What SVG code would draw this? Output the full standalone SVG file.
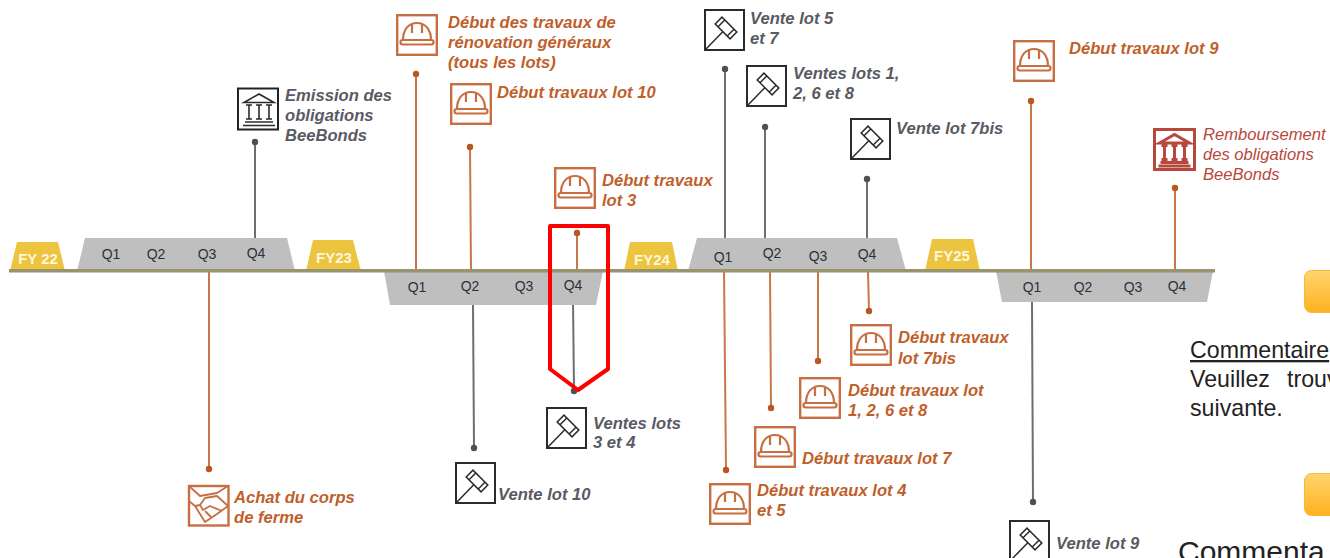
<svg xmlns="http://www.w3.org/2000/svg" xmlns:xlink="http://www.w3.org/1999/xlink" width="1330" height="558" viewBox="0 0 1330 558">
<style>
text{font-family:"Liberation Sans",Arial,sans-serif}
.o{font:italic bold 16.6px "Liberation Sans",Arial,sans-serif;fill:#BF5F2B}
.g{font:italic bold 16.6px "Liberation Sans",Arial,sans-serif;fill:#595A63}
.r{font:italic 16.6px "Liberation Sans",Arial,sans-serif;fill:#B8473C}
.q{font-size:14px;fill:#2E3038;text-anchor:middle}
.fy{font-size:15px;font-weight:bold;fill:#FFF6DC;text-anchor:middle}
.c{font-size:23.2px;fill:#222}
.lo{stroke:#C9784D;stroke-width:2;fill:none}
.lg{stroke:#6E6E6E;stroke-width:2;fill:none}
.do{fill:#B9571F}
.dg{fill:#4F5055}
.tz{fill:#BFBFBF}
.fyb{fill:#ECC440}
</style>
<defs>
<linearGradient id="ob" x1="0" y1="0" x2="0" y2="1"><stop offset="0" stop-color="#FFD56E"/><stop offset="1" stop-color="#FFB11F"/></linearGradient>
<symbol id="helmet" viewBox="0 0 42 42" width="42" height="42" overflow="visible">
<rect x="1.200" y="1.200" width="39.600" height="39.600" fill="none" stroke="#C76F43" stroke-width="2.400"/>
<path d="M7 26C7 15 13 9 21 9S35 15 35 26M16 10V19M26 10V19" fill="none" stroke="#C76F43" stroke-width="2.200"/>
<rect x="4.500" y="26" width="33" height="4.500" rx="2.200" fill="none" stroke="#C76F43" stroke-width="2.200"/>
</symbol>
<symbol id="gavel" viewBox="0 0 41 42" width="41" height="42" overflow="visible">
<rect x="1" y="1" width="39" height="40" fill="#fff" stroke="#2B2B2B" stroke-width="2"/>
<path d="M2 40L19 22.500" fill="none" stroke="#2B2B2B" stroke-width="1.500"/>
<g transform="rotate(45 22 19)" fill="none" stroke="#2B2B2B" stroke-width="1.500"><rect x="11.500" y="14.200" width="21" height="9.600"/><path d="M15.500 14.200V23.800M28.500 14.200V23.800"/></g>
</symbol>
<symbol id="bank" viewBox="0 0 42 42" width="42" height="42" overflow="visible">
<g fill="none" stroke="currentColor">
<path d="M6 14.500L21 6L36 14.500Z"/>
<path d="M8 17H14M11 17V31M8 31H14M18 17H24M21 17V31M18 31H24M28 17H34M31 17V31M28 31H34"/>
<path d="M7 34H35M5 37.500H37"/>
</g>
</symbol>
</defs>
<rect width="1330" height="558" fill="#fff"/>

<g id="connectors">
<path class="lg" d="M255 142V238"/><circle class="dg" cx="255" cy="142" r="3.200"/>
<path class="lo" d="M209 270V469"/><circle class="do" cx="209" cy="469" r="3.200"/>
<path class="lo" d="M416 74V270"/><circle class="do" cx="416" cy="74" r="3.200"/>
<path class="lo" d="M470 147L471 270"/><circle class="do" cx="470" cy="147" r="3.200"/>
<path class="lg" d="M473 305L474 448"/><circle class="dg" cx="474" cy="448" r="3.200"/>
<path class="lo" d="M577 233V270"/><circle class="do" cx="577" cy="233" r="3.200"/>
<path class="lg" d="M573 300L574 391"/><circle class="dg" cx="574" cy="391" r="3.200"/>
<path class="lg" d="M725 69V238"/><circle class="dg" cx="725" cy="69" r="3.200"/>
<path class="lg" d="M765 127V238"/><circle class="dg" cx="765" cy="127" r="3.200"/>
<path class="lg" d="M867 179V238"/><circle class="dg" cx="867" cy="179" r="3.200"/>
<path class="lo" d="M724 270L726 470"/><circle class="do" cx="726" cy="470" r="3.200"/>
<path class="lo" d="M770 272L771 408"/><circle class="do" cx="771" cy="408" r="3.200"/>
<path class="lo" d="M818 272V361"/><circle class="do" cx="818" cy="361" r="3.200"/>
<path class="lo" d="M868 272L869 311"/><circle class="do" cx="869" cy="311" r="3.200"/>
<path class="lo" d="M1031 101V270"/><circle class="do" cx="1031" cy="101" r="3.200"/>
<path class="lo" d="M1175 188V270"/><circle class="do" cx="1175" cy="188" r="3.200"/>
<path class="lg" d="M1032 302L1033 502"/><circle class="dg" cx="1033" cy="502" r="3.200"/>
</g>

<g id="timeline">
<path class="fyb" d="M10 271L17 242H58L65 271Z"/>
<path class="tz" d="M77 271L85 238H287L295 271Z"/>
<path class="fyb" d="M306 271L313 240H353L361 271Z"/>
<path class="tz" d="M384 271L390 305H596L603 271Z"/>
<path class="fyb" d="M624 271L630 242H672L678 271Z"/>
<path class="tz" d="M688 271L697 238H897L906 271Z"/>
<path class="fyb" d="M925 271L932 239H973L980 271Z"/>
<path class="tz" d="M996 271L1002 302H1207L1213 271Z"/>
<rect x="9" y="269" width="1206" height="3.500" fill="#98946E"/>
<text class="fy" x="38" y="264">FY 22</text><text class="fy" x="334" y="263">FY23</text><text class="fy" x="652" y="265">FY24</text><text class="fy" x="952" y="261">FY25</text>
<text class="q" x="111" y="259">Q1</text><text class="q" x="156" y="259">Q2</text><text class="q" x="207" y="259">Q3</text><text class="q" x="256" y="257.500">Q4</text>
<text class="q" x="417" y="292">Q1</text><text class="q" x="470" y="291">Q2</text><text class="q" x="524" y="291">Q3</text><text class="q" x="573" y="290">Q4</text>
<text class="q" x="723" y="262">Q1</text><text class="q" x="772" y="258">Q2</text><text class="q" x="818" y="261">Q3</text><text class="q" x="867" y="259">Q4</text>
<text class="q" x="1032" y="292">Q1</text><text class="q" x="1083" y="292">Q2</text><text class="q" x="1133" y="292">Q3</text><text class="q" x="1177" y="291">Q4</text>
</g>

<g id="n-emission"><rect x="238" y="88.500" width="40" height="41" fill="#fff" stroke="#222" stroke-width="2"/><use href="#bank" x="238" y="88" stroke-width="1.600" color="#2B2B2B"/><text class="g"><tspan x="285" y="101">Emission des</tspan><tspan x="285" y="121">obligations</tspan><tspan x="285" y="141">BeeBonds</tspan></text></g>
<g id="n-achat"><rect x="189" y="486" width="39.500" height="39.500" fill="none" stroke="#C76F43" stroke-width="2.400"/><g transform="translate(189 486)" fill="none" stroke="#C76F43" stroke-width="1.800" stroke-linejoin="round"><path d="M0 0L11 10L28 7L39 0M11 19L16 12L28 10L39 20M0 15L6 20L16 36L28 28L39 20M11 19L14 24L21 20L33 25M6 20L11 19M22 31L16 25"/></g><text class="o"><tspan x="234" y="503">Achat du corps</tspan><tspan x="234" y="523">de ferme</tspan></text></g>
<g id="n-travaux-gen"><use href="#helmet" x="396" y="14"/><text class="o"><tspan x="448" y="28">Début des travaux de</tspan><tspan x="448" y="48">rénovation généraux</tspan><tspan x="448" y="68">(tous les lots)</tspan></text></g>
<g id="n-travaux-10"><use href="#helmet" x="450" y="83"/><text class="o" x="497" y="98">Début travaux lot 10</text></g>
<g id="n-travaux-3"><use href="#helmet" x="554" y="167"/><text class="o"><tspan x="602" y="186">Début travaux</tspan><tspan x="602" y="206">lot 3</tspan></text></g>
<g id="n-vente-10"><use href="#gavel" x="455" y="462"/><text class="g" x="498" y="500">Vente lot 10</text></g>
<g id="n-vente-34"><use href="#gavel" x="546" y="407"/><text class="g"><tspan x="593" y="429">Ventes lots</tspan><tspan x="593" y="448">3 et 4</tspan></text></g>
<g id="n-vente-57"><use href="#gavel" x="704" y="9"/><text class="g"><tspan x="750" y="24">Vente lot 5</tspan><tspan x="750" y="44">et 7</tspan></text></g>
<g id="n-vente-1268"><use href="#gavel" x="746" y="65"/><text class="g"><tspan x="793" y="79">Ventes lots 1,</tspan><tspan x="793" y="99">2, 6 et 8</tspan></text></g>
<g id="n-vente-7bis"><use href="#gavel" x="850" y="118"/><text class="g" x="896" y="134">Vente lot 7bis</text></g>
<g id="n-travaux-7bis"><use href="#helmet" x="850" y="324"/><text class="o"><tspan x="898" y="343">Début travaux</tspan><tspan x="898" y="364">lot 7bis</tspan></text></g>
<g id="n-travaux-1268"><use href="#helmet" x="799" y="377"/><text class="o"><tspan x="848" y="396">Début travaux lot</tspan><tspan x="848" y="416">1, 2, 6 et 8</tspan></text></g>
<g id="n-travaux-7"><use href="#helmet" x="754" y="426"/><text class="o" x="802" y="464">Début travaux lot 7</text></g>
<g id="n-travaux-45"><use href="#helmet" x="709" y="483"/><text class="o"><tspan x="757" y="496">Début travaux lot 4</tspan><tspan x="757" y="516">et 5</tspan></text></g>
<g id="n-travaux-9"><use href="#helmet" x="1013" y="40"/><text class="o" x="1069" y="54">Début travaux lot 9</text></g>
<g id="n-vente-9"><use href="#gavel" x="1009" y="520"/><text class="g" x="1056" y="549">Vente lot 9</text></g>
<g id="n-remboursement"><rect x="1154.500" y="129.500" width="40" height="40" fill="none" stroke="#B8473C" stroke-width="3"/><use href="#bank" x="1153.500" y="128.500" stroke-width="3" color="#B8473C"/><text class="r"><tspan x="1203" y="140">Remboursement</tspan><tspan x="1203" y="160">des obligations</tspan><tspan x="1203" y="180">BeeBonds</tspan></text></g>

<g id="highlight"><path d="M550 226H608V369L578 390L550 369Z" fill="none" stroke="#FF0000" stroke-width="4" stroke-linejoin="round"/></g>

<g id="comments">
<rect x="1304.500" y="270.500" width="50" height="42" rx="7" fill="url(#ob)" stroke="#F5B83C"/>
<rect x="1304.500" y="473.500" width="50" height="42" rx="7" fill="url(#ob)" stroke="#F5B83C"/>
<text class="c" x="1190" y="358" text-decoration="underline">Commentaire</text>
<text class="c" y="387"><tspan x="1190">Veuillez</tspan><tspan x="1287">trouv</tspan></text>
<text class="c" x="1190" y="416">suivante.</text>
<text x="1178" y="562" font-size="30" fill="#222">Commenta</text>
</g>
</svg>
